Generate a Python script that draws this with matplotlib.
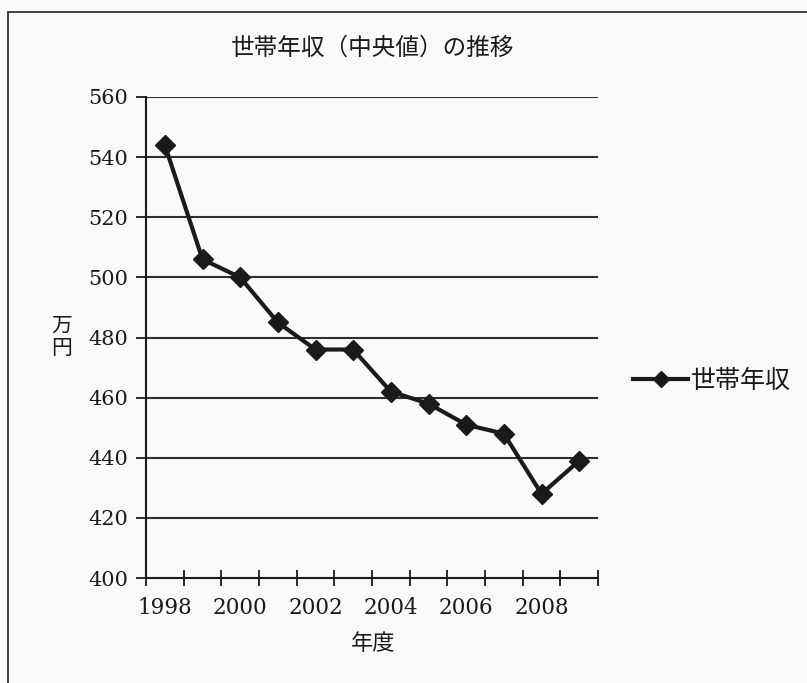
import matplotlib
matplotlib.use("Agg")
import matplotlib.pyplot as plt
from matplotlib.lines import Line2D
from matplotlib.patches import Rectangle

years = ["1998", "1999", "2000", "2001", "2002", "2003",
         "2004", "2005", "2006", "2007", "2008", "2009"]
income = [544, 506, 500, 485, 476, 476, 462, 458, 451, 448, 428, 439]
y_ticks = [400, 420, 440, 460, 480, 500, 520, 540, 560]

title = "世帯年収（中央値）の推移"
series_name = "世帯年収"
x_title = "年度"
y_title = "万\n円"

jp = ["Noto Sans CJK JP", "DejaVu Sans"]
num_font = "DejaVu Serif"
ink = "#1a1a1a"
bg = "#f9f9f8"

fig = plt.figure(figsize=(8.07, 6.83), dpi=100, facecolor=bg)

# outer chart frame (runs off the right and bottom edges)
frame_top = 1 - 12 / 683
fig.add_artist(Rectangle((8 / 807, -0.05), 1.2, frame_top + 0.05,
                         transform=fig.transFigure, fill=False,
                         edgecolor="#333333", linewidth=1.3))

ax = fig.add_axes([146 / 807, 1 - 578 / 683, 452 / 807, 481 / 683])
ax.set_facecolor(bg)

x = list(range(len(years)))
ax.plot(x, income, color=ink, linewidth=3.0, marker="D", markersize=10,
        markerfacecolor=ink, markeredgecolor=ink, zorder=3)

ax.set_xlim(-0.5, len(years) - 0.5)
ax.set_ylim(y_ticks[0], y_ticks[-1])

for v in y_ticks[1:]:
    ax.axhline(v, color="#2e2e2e", linewidth=1.5, zorder=1)

for s in ("top", "right"):
    ax.spines[s].set_visible(False)
for s in ("left", "bottom"):
    ax.spines[s].set_color(ink)
    ax.spines[s].set_linewidth(1.5)

ax.set_yticks(y_ticks)
ax.set_yticklabels([str(v) for v in y_ticks], fontsize=15, family=num_font,
                   color=ink)
ax.tick_params(axis="y", direction="out", length=7, width=1.3, color=ink,
               pad=6)

# category boundaries carry tick marks, every other category carries a label
ax.set_xticks([i - 0.5 for i in range(len(years) + 1)], minor=True)
ax.set_xticks(x[::2])
ax.set_xticklabels(years[::2], fontsize=15.5, family=num_font, color=ink)
ax.tick_params(axis="x", which="major", length=0, pad=14)
ax.tick_params(axis="x", which="minor", direction="inout", length=12,
               width=1.3, color=ink)

fig.text(373 / 807, 1 - 48 / 683, title, ha="center", va="center",
         fontsize=17, family=jp, color=ink)
fig.text(373 / 807, 1 - 643 / 683, x_title, ha="center", va="center",
         fontsize=16, family=jp, color=ink)
fig.text(62 / 807, 1 - 337 / 683, y_title, ha="center", va="center",
         fontsize=15, family=jp, color=ink, linespacing=1.05)

handle = Line2D([], [], color=ink, linewidth=3.0, marker="D", markersize=8,
                markerfacecolor=ink, markeredgecolor=ink)
fig.legend([handle], [series_name], loc="center left",
           bbox_to_anchor=(633 / 807, 1 - 381 / 683), frameon=False,
           prop={"family": jp, "size": 18}, handlelength=2.2,
           handletextpad=0.1, borderaxespad=0, borderpad=0,
           labelcolor=ink)

fig.savefig("out.png", dpi=100, facecolor=bg)
